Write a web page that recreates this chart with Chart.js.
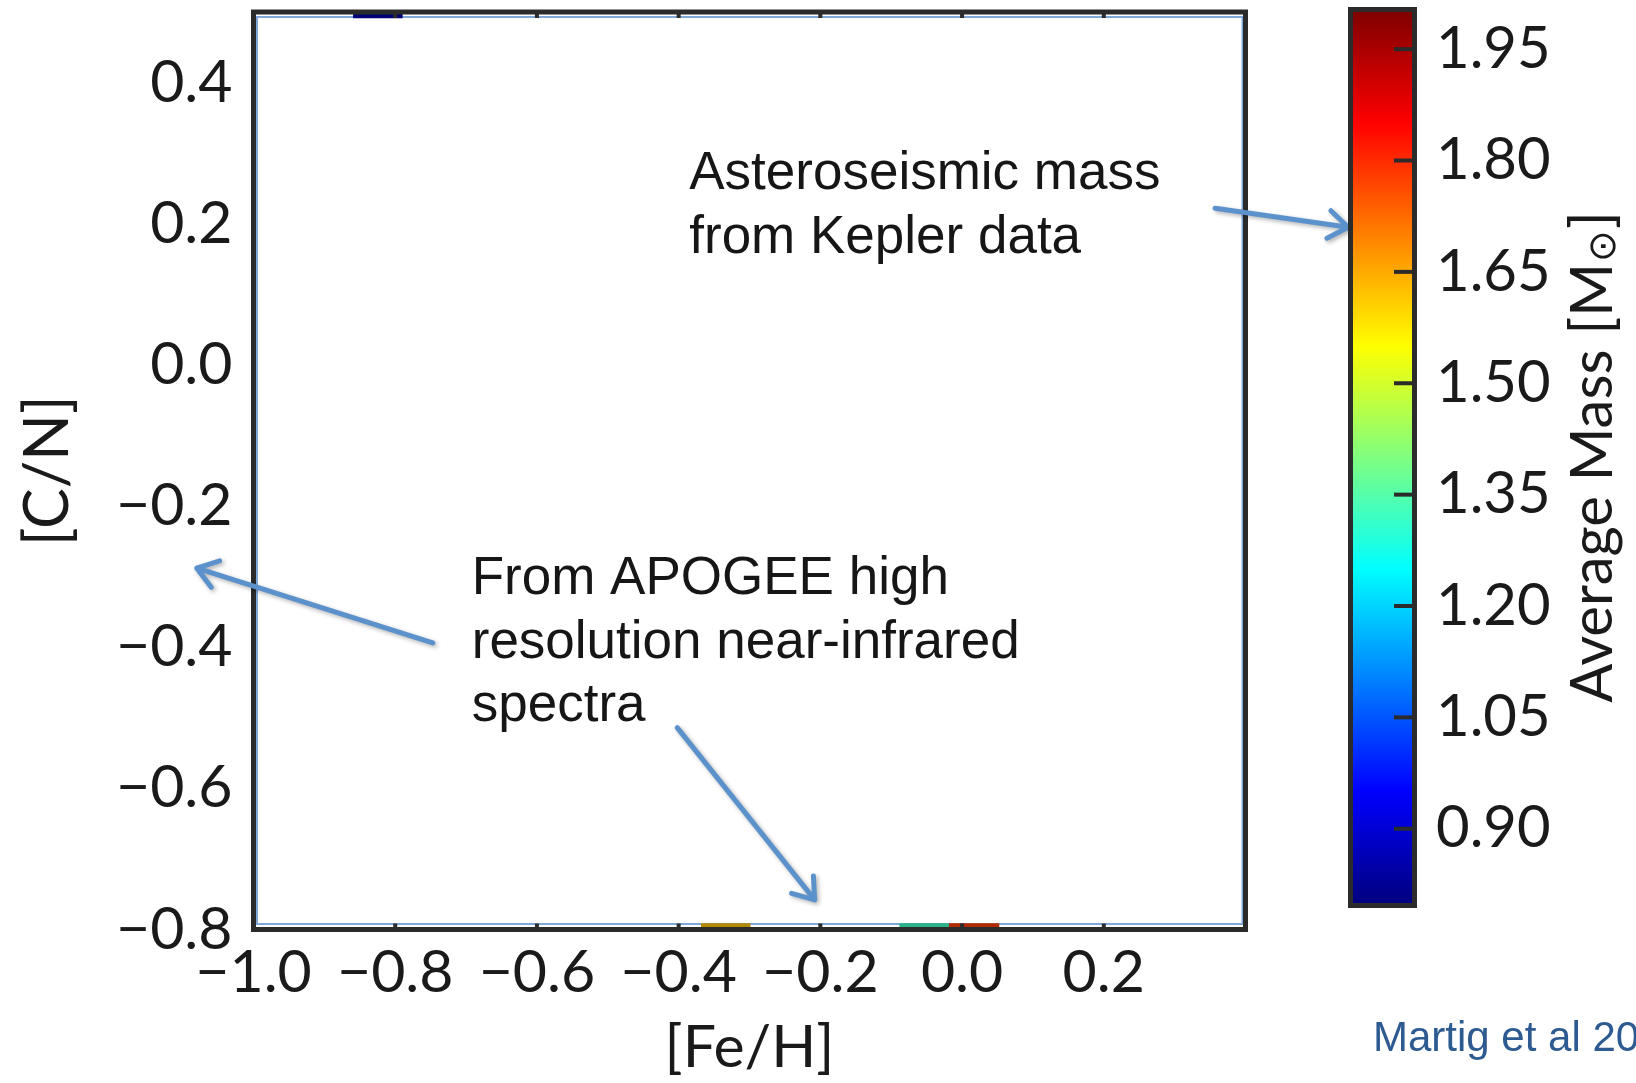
<!DOCTYPE html>
<html>
<head>
<meta charset="utf-8">
<script src="https://cdn.jsdelivr.net/npm/chart.js@4.4.0/dist/chart.umd.min.js"></script>
<style>
  html, body { margin: 0; padding: 0; background: #fff; }
  body { width: 1636px; height: 1083px; position: relative; overflow: hidden; }
  #main { position: absolute; left: 0; top: 0; }
  #cbar { position: absolute; left: 1340px; top: 0; }
</style>
</head>
<body>
<canvas id="main" width="1636" height="1083"></canvas>
<canvas id="cbar" width="296" height="1083"></canvas>
<script>
// axis ranges and ticks
const xRange = [-1.0, 0.4];
const yRange = [-0.8, 0.5];
const xTicks = [-1.0, -0.8, -0.6, -0.4, -0.2, 0.0, 0.2];
const yTicks = [-0.8, -0.6, -0.4, -0.2, 0.0, 0.2, 0.4];

// colour bar (average mass, Msun)
const massRange = [0.8, 2.0];
const massTicks = [0.90, 1.05, 1.20, 1.35, 1.50, 1.65, 1.80, 1.95];

// the few bins still visible, squeezed against the plot edges
const binFeH = [[-0.859, -0.790], [-0.368, -0.299], [-0.088, -0.018], [-0.018, 0.052]];
const binCN = [0.495, -0.795, -0.795, -0.795];
const binMass = [0.85, 1.62, 1.32, 1.78];

// annotations, in data coordinates of the main plot
const notes = [
  { lines: ['Asteroseismic mass', 'from Kepler data'], at: [-0.385, 0.249] },
  { lines: ['From APOGEE high', 'resolution near-infrared', 'spectra'], at: [-0.692, -0.325] }
];
const arrows = [
  { from: [0.357, 0.222], to: [0.545, 0.195] },
  { from: [-0.747, -0.394], to: [-1.080, -0.288] },
  { from: [-0.402, -0.514], to: [-0.208, -0.758] }
];

const FONT = "Lato, 'DejaVu Sans', sans-serif";
const INK = '#1a1a1a';
const FRAME = '#2b2b2b';
const ARROW = '#5b92cc';

// matplotlib "jet"
const clamp = (v) => Math.max(0, Math.min(1, v));
const jet = (t) => [
  clamp(Math.min(4 * t - 1.5, -4 * t + 4.5)),
  clamp(Math.min(4 * t - 0.5, -4 * t + 3.5)),
  clamp(Math.min(4 * t + 0.5, -4 * t + 2.5))
];
const jetColor = (m, shade = 1) => {
  const t = (m - massRange[0]) / (massRange[1] - massRange[0]);
  const c = jet(t).map(v => Math.round(v * 255 * shade));
  return `rgb(${c[0]}, ${c[1]}, ${c[2]})`;
};

const fmt = (v, d) => (v < 0 ? '\u2212' : '') + Math.abs(v).toFixed(d);

// keep the plot box where it is, whatever room the end labels want
const noScalePadding = s => {
  s.paddingTop = 0; s.paddingBottom = 0;
  s.paddingLeft = 0; s.paddingRight = 0;
};

const drawArrow = (ctx, x0, y0, x1, y1) => {
  const ang = Math.atan2(y1 - y0, x1 - x0);
  const len = 24, spread = 0.62;
  ctx.beginPath();
  ctx.moveTo(x0, y0);
  ctx.lineTo(x1, y1);
  ctx.moveTo(x1 - len * Math.cos(ang - spread), y1 - len * Math.sin(ang - spread));
  ctx.lineTo(x1, y1);
  ctx.lineTo(x1 - len * Math.cos(ang + spread), y1 - len * Math.sin(ang + spread));
  ctx.stroke();
};

const framePlugin = {
  id: 'frame',
  beforeDatasetsDraw(chart) {
    const { ctx, chartArea: a } = chart;
    // thin light-blue box just inside the axes
    ctx.save();
    ctx.strokeStyle = '#80a9da';
    ctx.lineWidth = 2;
    ctx.strokeRect(a.left + 3.5, a.top + 5, a.width - 6.5, a.height - 10.5);
    ctx.restore();
  },
  afterDraw(chart) {
    const { ctx, chartArea: a, scales } = chart;
    const sx = scales.x, sy = scales.y;
    ctx.save();

    // inward ticks, top and bottom
    ctx.strokeStyle = FRAME;
    ctx.lineWidth = 4;
    xTicks.forEach(v => {
      const px = sx.getPixelForValue(v);
      ctx.beginPath();
      ctx.moveTo(px, a.top); ctx.lineTo(px, a.top + 6);
      ctx.moveTo(px, a.bottom); ctx.lineTo(px, a.bottom - 6);
      ctx.stroke();
    });

    ctx.lineWidth = 5;
    ctx.strokeRect(a.left, a.top, a.width, a.height);

    // text notes
    ctx.fillStyle = '#161616';
    ctx.font = "53px 'Liberation Sans', Arial, sans-serif";
    ctx.textBaseline = 'alphabetic';
    ctx.textAlign = 'left';
    notes.forEach(n => {
      const x = sx.getPixelForValue(n.at[0]);
      const y = sy.getPixelForValue(n.at[1]);
      n.lines.forEach((t, i) => ctx.fillText(t, x, y + i * 63.5));
    });

    // arrows
    ctx.strokeStyle = ARROW;
    ctx.lineWidth = 5;
    ctx.lineCap = 'round';
    ctx.lineJoin = 'round';
    ctx.shadowColor = 'rgba(0, 0, 0, 0.3)';
    ctx.shadowBlur = 4;
    ctx.shadowOffsetX = 2;
    ctx.shadowOffsetY = 2;
    arrows.forEach(r => {
      drawArrow(ctx,
        sx.getPixelForValue(r.from[0]), sy.getPixelForValue(r.from[1]),
        sx.getPixelForValue(r.to[0]), sy.getPixelForValue(r.to[1]));
    });
    ctx.shadowColor = 'transparent';

    // citation, bottom right (runs off the page like the original)
    ctx.fillStyle = '#2d5a90';
    ctx.font = "42px 'Liberation Sans', Arial, sans-serif";
    ctx.fillText('Martig et al 2016', 1373, 1051);
    ctx.restore();
  }
};

new Chart(document.getElementById('main'), {
  type: 'bar',
  data: {
    datasets: [{
      data: binFeH.map((r, i) => ({ x: r, y: binCN[i] })),
      backgroundColor: binMass.map(m => jetColor(m, 0.7)),
      borderWidth: 0,
      barThickness: 5
    }]
  },
  options: {
    indexAxis: 'y',
    responsive: false,
    animation: false,
    layout: { padding: { left: 0, top: 12, right: 390.5, bottom: 0 } },
    plugins: { legend: { display: false }, tooltip: { enabled: false } },
    scales: {
      x: {
        type: 'linear',
        min: xRange[0],
        max: xRange[1],
        afterBuildTicks: s => { s.ticks = xTicks.map(v => ({ value: v })); },
        afterFit: s => { s.height = 153.5; noScalePadding(s); },
        grid: { display: false, drawTicks: false },
        border: { display: false },
        ticks: {
          autoSkip: false, maxRotation: 0, padding: 8,
          color: INK, font: { family: FONT, size: 59 },
          callback: v => fmt(v, 1)
        },
        title: { display: true, text: '[Fe/H]', color: INK, font: { family: FONT, size: 59 }, padding: 0 }
      },
      y: {
        type: 'linear',
        offset: false,
        min: yRange[0],
        max: yRange[1],
        afterBuildTicks: s => { s.ticks = yTicks.map(v => ({ value: v })); },
        afterFit: s => { s.width = 253.5; noScalePadding(s); },
        grid: { display: false, drawTicks: false, offset: false },
        border: { display: false },
        ticks: {
          autoSkip: false, padding: 21,
          color: INK, font: { family: FONT, size: 59 },
          callback: v => fmt(v, 1)
        },
        title: { display: true, text: '[C/N]', color: INK, font: { family: FONT, size: 61 }, padding: { top: 12, bottom: 0 } }
      }
    }
  },
  plugins: [framePlugin]
});

const cbarPlugin = {
  id: 'cbarFrame',
  afterDraw(chart) {
    const { ctx, chartArea: a, scales } = chart;
    ctx.save();
    ctx.strokeStyle = FRAME;
    ctx.lineWidth = 4;
    massTicks.forEach(v => {
      const py = scales.y.getPixelForValue(v);
      ctx.beginPath();
      ctx.moveTo(a.right - 18, py);
      ctx.lineTo(a.right, py);
      ctx.stroke();
    });
    ctx.lineWidth = 5;
    ctx.strokeRect(a.left - 2.5, a.top - 2.5, a.width + 5, a.height + 5);

    // "Average Mass [M_sun]" read bottom to top
    ctx.translate(253, 457);
    ctx.rotate(-Math.PI / 2);
    ctx.fillStyle = INK;
    ctx.textBaseline = 'middle';
    ctx.textAlign = 'left';
    const big = `58px ${FONT}`, small = `38px 'DejaVu Sans', ${FONT}`;
    const p1 = 'Average Mass [M', p2 = '\u2299', p3 = ']';
    ctx.font = big;
    const w1 = ctx.measureText(p1).width, w3 = ctx.measureText(p3).width;
    ctx.font = small;
    const w2 = ctx.measureText(p2).width + 2;
    let x = -(w1 + w2 + w3) / 2;
    ctx.font = big;
    ctx.fillText(p1, x, 0);
    x += w1;
    ctx.font = small;
    ctx.fillText(p2, x + 1, 12);
    x += w2;
    ctx.font = big;
    ctx.fillText(p3, x, 0);
    ctx.restore();
  }
};

new Chart(document.getElementById('cbar'), {
  type: 'bar',
  data: {
    labels: ['mass'],
    datasets: [{
      data: [massRange],
      borderWidth: 0,
      barPercentage: 1,
      categoryPercentage: 1,
      backgroundColor: c => {
        const ch = c.chart;
        if (!ch.chartArea) return '#000080';
        const sy = ch.scales.y;
        const g = ch.ctx.createLinearGradient(0, sy.getPixelForValue(massRange[0]), 0, sy.getPixelForValue(massRange[1]));
        for (let i = 0; i <= 40; i++) {
          const c3 = jet(i / 40).map(v => Math.round(v * 255));
          g.addColorStop(i / 40, `rgb(${c3[0]}, ${c3[1]}, ${c3[2]})`);
        }
        return g;
      }
    }]
  },
  options: {
    responsive: false,
    animation: false,
    layout: { padding: { left: 13, top: 12, right: 0, bottom: 180 } },
    plugins: { legend: { display: false }, tooltip: { enabled: false } },
    scales: {
      x: { display: false },
      y: {
        position: 'right',
        min: massRange[0],
        max: massRange[1],
        afterBuildTicks: s => { s.ticks = massTicks.map(v => ({ value: v })); },
        afterFit: s => { s.width = 224; noScalePadding(s); },
        grid: { display: false, drawTicks: false },
        border: { display: false },
        ticks: {
          padding: 24,
          color: INK, font: { family: FONT, size: 58 },
          callback: v => v.toFixed(2)
        }
      }
    }
  },
  plugins: [cbarPlugin]
});
</script>
</body>
</html>
